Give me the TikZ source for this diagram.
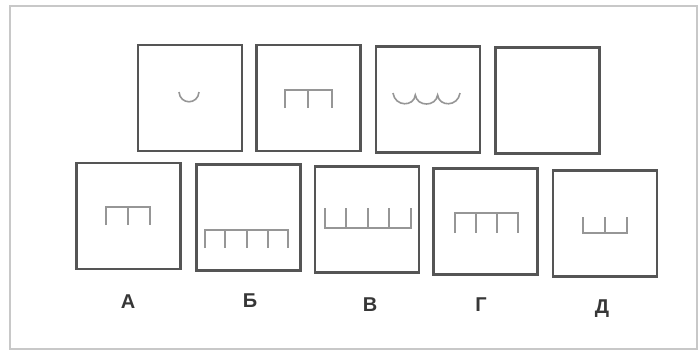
\documentclass[tikz,border=0pt]{standalone}
\usepackage{fontspec}
\newfontfamily\labelfont{Liberation Sans}
\usetikzlibrary{positioning,calc}
\usepackage{xcolor}
\definecolor{framegray}{RGB}{200, 200, 200}
\definecolor{boxgray}{RGB}{85, 85, 85}
\definecolor{glyphgray}{RGB}{150, 150, 150}
\definecolor{labelgray}{RGB}{55, 55, 55}

\begin{document}
\begin{tikzpicture}[x=1pt, y=-1pt,
    card/.style={draw=boxgray, line width=2.6pt, minimum width=104pt, minimum height=106pt, inner sep=0pt},
    mark line/.style={draw=glyphgray, line width=1.6pt},
    letter/.style={text=labelgray, font=\labelfont\bfseries\fontsize{20}{24}\selectfont, inner sep=0pt}]
        \useasboundingbox (0,0) rectangle (698,354);
        \draw[framegray, line width=2pt] (10,6) rectangle (697,349);
        % top row
        \node[card] (t1) at (190, 98) {};
        \node[card] (t2) at (308.5, 98) {};
        \node[card] (t3) at (428, 99.5) {};
        \node[card] (t4) at (547.5, 100.5) {};
        % answers
        \node[card] (cA) at (128.5, 216) {};
        \node[card] (cB) at (248.5, 217.5) {};
        \node[card] (cV) at (367, 219.5) {};
        \node[card] (cG) at (485.5, 221.5) {};
        \node[card] (cD) at (605, 223.5) {};
        \node[letter] (lA) at (128, 302) {А};
        \node[letter] (lB) at (250, 301) {Б};
        \node[letter] (lV) at (370, 305) {В};
        \node[letter] (lG) at (481, 305) {Г};
        \node[letter] (lD) at (602, 309) {Д};
        % marks in the top row
        \draw[mark line] (179,92) .. controls (180,105) and (198,105) .. (199,92);
        \draw[mark line] (285,108) -- (285,90) -- (332,90) -- (332,108);
        \draw[mark line] (308,90) -- (308,108);
        \draw[mark line] (393,93) .. controls (395,107) and (414,107) .. (415.3,95)
            .. controls (417,107) and (436,107) .. (437.6,95)
            .. controls (439,107) and (458,107) .. (460,93);
        % marks in the answers
        \draw[mark line] (106,225) -- (106,207) -- (150,207) -- (150,225);
        \draw[mark line] (128,207) -- (128,225);
        \draw[mark line] (205,248) -- (205,230) -- (288,230) -- (288,248);
        \foreach \x in {225,247,268}
            \draw[mark line] (\x,230) -- (\x,248);
        \draw[mark line] (325,208) -- (325,228) -- (411,228) -- (411,208);
        \foreach \x in {346,368,389}
            \draw[mark line] (\x,228) -- (\x,208);
        \draw[mark line] (455,233) -- (455,213) -- (518,213) -- (518,233);
        \foreach \x in {476,497}
            \draw[mark line] (\x,213) -- (\x,233);
        \draw[mark line] (583,217) -- (583,233) -- (627,233) -- (627,217);
        \draw[mark line] (605,233) -- (605,217);
    \end{tikzpicture}
\end{document}
